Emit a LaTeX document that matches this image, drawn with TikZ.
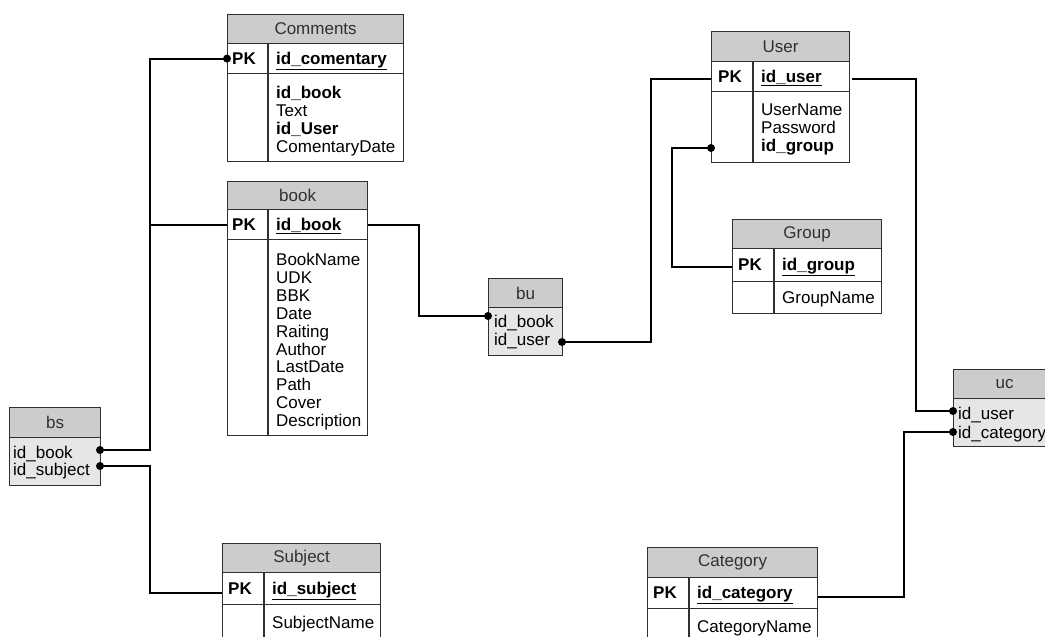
\documentclass[tikz,border=0pt]{standalone}
\usepackage{fontspec}
\setmainfont{Liberation Sans}
\newcommand\tabfont{\fontsize{17}{17.9}\selectfont}
\definecolor{edge}{HTML}{303030}
\definecolor{hdrfill}{HTML}{CCCCCC}
\definecolor{lnkfill}{HTML}{E6E6E6}
\definecolor{hdrtext}{HTML}{303030}
\begin{document}
\begin{tikzpicture}[x=1pt,y=-1pt,
  tab/.style={draw=edge,line width=1.2pt,inner sep=0pt,anchor=north west},
  hdr/.style={tab,fill=hdrfill,text=hdrtext,font=\tabfont},
  cell/.style={tab,fill=white},
  lnk/.style={tab,fill=lnkfill},
  divider/.style={draw=edge,line width=1.2pt},
  txt/.style={anchor=base west,inner sep=0pt,font=\tabfont},
  pkl/.style={txt,font=\tabfont\bfseries},
  attrs/.style={anchor=north west,inner sep=0pt,align=left,font=\tabfont},
  conn/.style={line width=1.9pt,black},
  dot/.style={fill=black}]
\useasboundingbox (0,0) rectangle (1045,637);

% ---------- Comments ----------
\node[hdr,minimum width=176,minimum height=29] (cm-h) at (227,14) {Comments};
\node[cell,minimum width=176,minimum height=30] (cm-pk) at (227,43) {};
\node[cell,minimum width=176,minimum height=88] (cm-b) at (227,73) {};
\draw[divider] (268,43) -- (268,161);
\node[pkl] (cm-pkt) at (232,64) {PK};
\node[pkl] (cm-key) at (276,64) {\underline{id\_comentary}};
\node[attrs] (cm-at) at (276,86) {\textbf{id\_book}\\Text\\\textbf{id\_User}\\ComentaryDate};

% ---------- book ----------
\node[hdr,minimum width=140,minimum height=28] (bk-h) at (227,181) {book};
\node[cell,minimum width=140,minimum height=30] (bk-pk) at (227,209) {};
\node[cell,minimum width=140,minimum height=196] (bk-b) at (227,239) {};
\draw[divider] (268,209) -- (268,435);
\node[pkl] (bk-pkt) at (232,230) {PK};
\node[pkl] (bk-key) at (276,230) {\underline{id\_book}};
\node[attrs] (bk-at) at (276,253) {BookName\\UDK\\BBK\\Date\\Raiting\\Author\\LastDate\\Path\\Cover\\Description};

% ---------- User ----------
\node[hdr,minimum width=138,minimum height=30] (us-h) at (711,31) {User};
\node[cell,minimum width=138,minimum height=30] (us-pk) at (711,61) {};
\node[cell,minimum width=138,minimum height=71] (us-b) at (711,91) {};
\draw[divider] (753,61) -- (753,162);
\node[pkl] (us-pkt) at (718,82) {PK};
\node[pkl] (us-key) at (761,82) {\underline{id\_user}};
\node[attrs] (us-at) at (761,104) {UserName\\Password\\\textbf{id\_group}};

% ---------- Group ----------
\node[hdr,minimum width=149,minimum height=29] (gr-h) at (732,219) {Group};
\node[cell,minimum width=149,minimum height=33] (gr-pk) at (732,248) {};
\node[cell,minimum width=149,minimum height=32] (gr-b) at (732,281) {};
\draw[divider] (774,248) -- (774,313);
\node[pkl] (gr-pkt) at (738,270) {PK};
\node[pkl] (gr-key) at (782,270) {\underline{id\_group}};
\node[txt] (gr-at) at (782,303) {GroupName};

% ---------- Subject ----------
\node[hdr,minimum width=158,minimum height=29] (sb-h) at (222,543) {Subject};
\node[cell,minimum width=158,minimum height=32] (sb-pk) at (222,572) {};
\node[cell,minimum width=158,minimum height=46] (sb-b) at (222,604) {};
\draw[divider] (264,572) -- (264,650);
\node[pkl] (sb-pkt) at (228,594) {PK};
\node[pkl] (sb-key) at (272,594) {\underline{id\_subject}};
\node[txt] (sb-at) at (272,628) {SubjectName};

% ---------- Category ----------
\node[hdr,minimum width=170,minimum height=30] (ct-h) at (647,547) {Category};
\node[cell,minimum width=170,minimum height=31] (ct-pk) at (647,577) {};
\node[cell,minimum width=170,minimum height=42] (ct-b) at (647,608) {};
\draw[divider] (689,577) -- (689,650);
\node[pkl] (ct-pkt) at (653,598) {PK};
\node[pkl] (ct-key) at (697,598) {\underline{id\_category}};
\node[txt] (ct-at) at (697,632) {CategoryName};

% ---------- link tables ----------
\node[hdr,minimum width=91,minimum height=30] (bs-h) at (9,407) {bs};
\node[lnk,minimum width=91,minimum height=48] (bs-b) at (9,437) {};
\node[txt] (bs-r1) at (13,458) {id\_book};
\node[txt] (bs-r2) at (13,475) {id\_subject};

\node[hdr,minimum width=74,minimum height=29] (bu-h) at (488,278) {bu};
\node[lnk,minimum width=74,minimum height=48] (bu-b) at (488,307) {};
\node[txt] (bu-r1) at (494,327) {id\_book};
\node[txt] (bu-r2) at (494,345) {id\_user};

\node[hdr,minimum width=102,minimum height=29] (uc-h) at (953,369) {uc};
\node[lnk,minimum width=102,minimum height=48] (uc-b) at (953,398) {};
\node[txt] (uc-r1) at (958,419) {id\_user};
\node[txt] (uc-r2) at (958,438) {id\_category};

% ---------- key attachment points ----------
\coordinate (bs-k1) at (100,450);
\coordinate (bs-k2) at (100,466);
\coordinate (bu-k1) at (488,316);
\coordinate (bu-k2) at (562,342);
\coordinate (us-k3) at (711,148);
\coordinate (uc-k1) at (953,411);
\coordinate (uc-k2) at (953,432);

% ---------- relationships ----------
\draw[conn] (bs-k1) -| ([xshift=-77pt]cm-pk.west) -- (cm-pk.west);
\draw[conn] ([xshift=-77pt]bk-pk.west) -- (bk-pk.west);
\draw[conn] (bs-k2) -| ([xshift=-72pt,yshift=-4pt]sb-pk.west) -- ([yshift=-4pt]sb-pk.west);
\draw[conn] (bk-pk.east) -| ([xshift=-69pt]bu-k1) -- (bu-k1);
\draw[conn] (bu-k2) -| ([xshift=-60pt,yshift=-2pt]us-pk.west) -- ([yshift=-2pt]us-pk.west);
\draw[conn] (us-k3) -| ([xshift=-60pt,yshift=-2pt]gr-pk.west) -- ([yshift=-2pt]gr-pk.west);
\draw[conn] ([xshift=2pt,yshift=-2pt]us-pk.east) -| ([xshift=-37pt]uc-k1) -- (uc-k1);
\draw[conn] (uc-k2) -| ([xshift=86pt,yshift=-3.5pt]ct-pk.east) -- ([yshift=-3.5pt]ct-pk.east);

\foreach \p in {bs-k1,bs-k2,cm-pk.west,bu-k1,bu-k2,us-k3,uc-k1,uc-k2}
  \fill[dot] (\p) circle (4);
\end{tikzpicture}
\end{document}
